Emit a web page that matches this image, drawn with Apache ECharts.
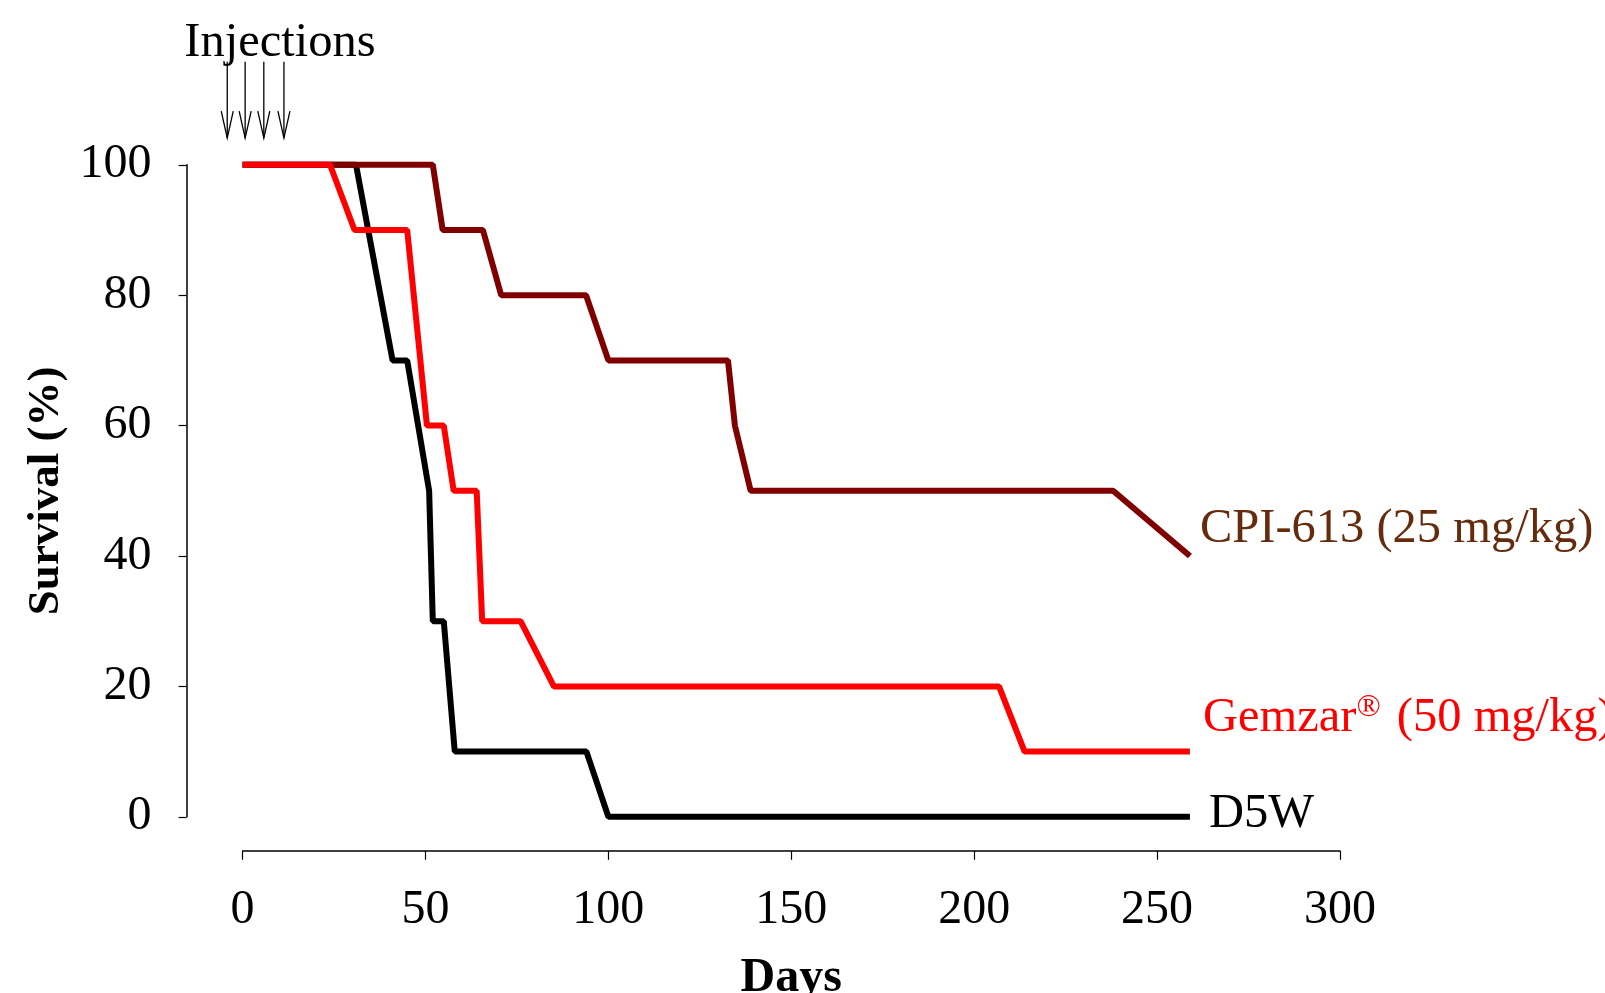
<!DOCTYPE html>
<html>
<head>
<meta charset="utf-8">
<script src="https://cdn.jsdelivr.net/npm/echarts@6/dist/echarts.min.js"></script>
<style>
html,body{margin:0;padding:0;background:#fff;}
#chart{width:1605px;height:993px;}
</style>
</head>
<body>
<div id="chart"></div>
<script>
// ---- data ----
var xTicks = [0, 50, 100, 150, 200, 250, 300];
var yTicks = [0, 20, 40, 60, 80, 100];
var d5wDays = [0, 31, 41, 45, 51, 52, 55, 58, 94, 100, 259];
var d5wSurv = [100, 100, 70, 70, 50, 30, 30, 10, 10, 0, 0];
var cpiDays = [0, 52, 54.7, 65.7, 70.7, 93.9, 100, 132.7, 134.6, 138.9, 238, 259];
var cpiSurv = [100, 100, 90, 90, 80, 80, 70, 70, 60, 50, 50, 40];
var gemDays = [0, 23.9, 30.6, 45, 50.4, 55, 57.7, 64, 65.5, 76, 85.1, 206.8, 213.8, 259];
var gemSurv = [100, 100, 90, 90, 60, 60, 50, 50, 30, 30, 20, 20, 10, 10];
var injectionDays = [-4.2, 0.7, 5.8, 11.3];
var arrowTop = 115.8, arrowTip = 104.1;

function pairs(xs, ys) { return xs.map(function (x, i) { return [x, ys[i]]; }); }

var FONT = 'Liberation Serif';
var FS = 48;
var LFS = 48.5;

var chart = echarts.init(document.getElementById('chart'), null, {renderer: 'canvas'});

function lineSeries(name, data, color, label, labelColor, offset, rich) {
  return {
    type: 'line', name: name, data: data, showSymbol: false, symbol: 'none',
    lineStyle: {color: color, width: 6}, itemStyle: {color: color},
    clip: false, animation: false,
    endLabel: {
      show: true, formatter: label, color: labelColor, fontFamily: FONT, fontSize: LFS,
      offset: offset, rich: rich || undefined
    },
    emphasis: {disabled: true}
  };
}

var option = {
  animation: false,
  backgroundColor: '#fff',
  grid: {left: 242.6, right: 265.1, top: 164.8, bottom: 176.2, containLabel: false, outerBoundsMode: 'none'},
  xAxis: {
    type: 'value', min: xTicks[0], max: xTicks[xTicks.length - 1], interval: 50,
    offset: 34,
    name: 'Days', nameLocation: 'middle', nameGap: 104,
    nameTextStyle: {fontFamily: FONT, fontSize: FS, fontWeight: 'bold', color: '#000'},
    axisLine: {show: true, onZero: false, lineStyle: {color: '#000', width: 1.5}},
    axisTick: {show: true, inside: false, length: 9, lineStyle: {color: '#000', width: 1.2}},
    axisLabel: {fontFamily: FONT, fontSize: FS, color: '#000', margin: 36},
    splitLine: {show: false}
  },
  yAxis: {
    type: 'value', min: yTicks[0], max: yTicks[yTicks.length - 1], interval: 20,
    offset: 56,
    name: 'Survival (%)', nameLocation: 'middle', nameGap: 108, nameRotate: 90,
    nameTextStyle: {fontFamily: FONT, fontSize: 45, fontWeight: 'bold', color: '#000'},
    axisLine: {show: true, onZero: false, lineStyle: {color: '#000', width: 1.5}},
    axisTick: {show: true, inside: false, length: 8, lineStyle: {color: '#000', width: 1.2}},
    axisLabel: {fontFamily: FONT, fontSize: FS, color: '#000', margin: 35},
    splitLine: {show: false}
  },
  graphic: [{
    type: 'text', x: 280, y: 43, silent: true,
    style: {text: 'Injections', font: '48.5px "' + FONT + '"', fill: '#000', align: 'center', verticalAlign: 'middle'}
  }],
  series: [
    lineSeries('D5W', pairs(d5wDays, d5wSurv), '#000000', 'D5W', '#000', [11, -3]),
    lineSeries('CPI-613 (25 mg/kg)', pairs(cpiDays, cpiSurv), '#800000', 'CPI-613 (25 mg/kg)', '#652b0d', [2, -27]),
    lineSeries('Gemzar® (50 mg/kg)', pairs(gemDays, gemSurv), '#ff0000',
      '{a|Gemzar}{s|®}{a| (50 mg/kg)}', '#ff0000', [5, -33],
      {a: {fontFamily: FONT, fontSize: LFS, color: '#ff0000'},
       s: {fontFamily: FONT, fontSize: 32, color: '#ff0000', verticalAlign: 'top', padding: [0, 4, 22, 0]}}),
    {
      type: 'custom', name: 'Injections', clip: false, animation: false, silent: true,
      data: injectionDays.map(function (d) { return [d]; }),
      renderItem: function (params, api) {
        var d = api.value(0);
        var top = api.coord([d, arrowTop]);
        var tip = api.coord([d, arrowTip]);
        var hw = 6, hl = 27;
        return {
          type: 'group',
          children: [
            {type: 'line', shape: {x1: top[0], y1: top[1], x2: tip[0], y2: tip[1]},
             style: {stroke: '#000', lineWidth: 1.3}},
            {type: 'polyline', shape: {points: [[tip[0] - hw, tip[1] - hl], [tip[0], tip[1]], [tip[0] + hw, tip[1] - hl]]},
             style: {stroke: '#000', lineWidth: 1.3, fill: null}}
          ]
        };
      }
    }
  ]
};
chart.setOption(option);
</script>
</body>
</html>
